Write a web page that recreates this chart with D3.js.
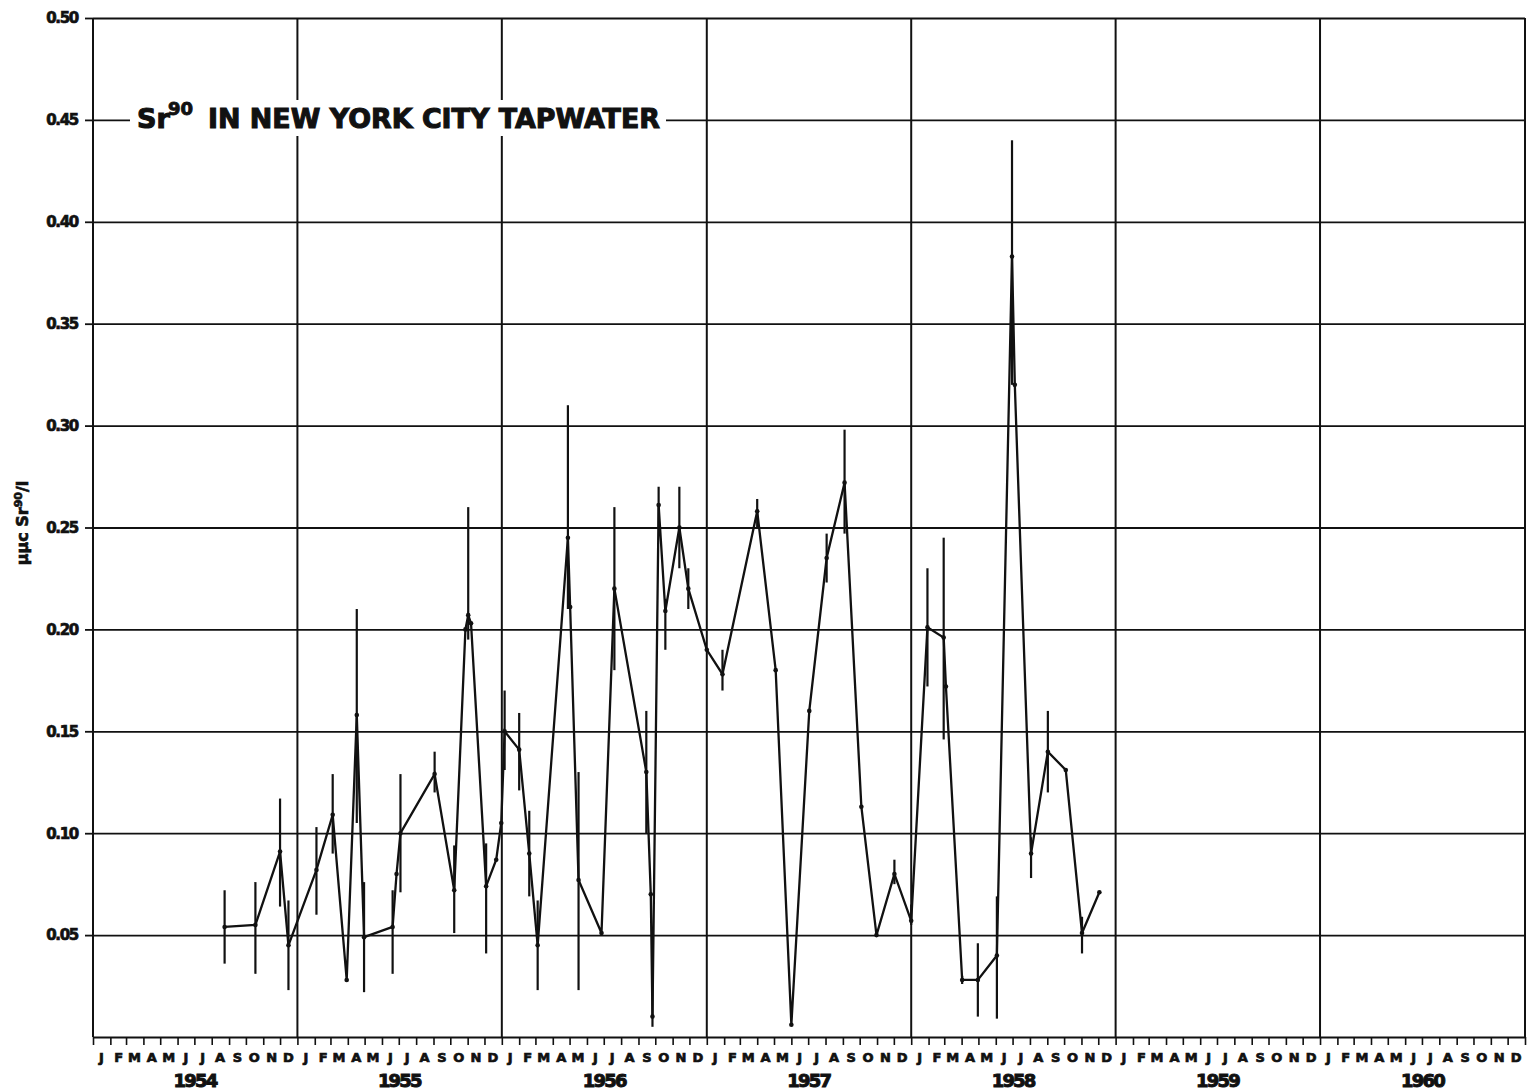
<!DOCTYPE html>
<html>
<head>
<meta charset="utf-8">
<script src="https://cdn.jsdelivr.net/npm/d3@7"></script>
<style>
  body { margin: 0; background: #fff; }
  svg text { font-family: "DejaVu Sans", "Liberation Sans", sans-serif; font-weight: bold; fill: #111; stroke: #111; stroke-width: 0.7px; }
</style>
</head>
<body>
<svg id="chart"></svg>
<script>
// Sample dates
const sampleDates = [
  "1954-08-24","1954-10-18","1954-12-01","1954-12-16",
  "1955-02-04","1955-03-05","1955-03-30","1955-04-17","1955-04-30","1955-06-20","1955-06-27","1955-07-04",
  "1955-09-03","1955-10-08","1955-10-28","1955-11-02","1955-11-07","1955-12-04","1955-12-22","1955-12-31",
  "1956-01-06","1956-02-01","1956-02-19","1956-03-05","1956-04-28","1956-05-02","1956-05-17",
  "1956-06-27","1956-07-20","1956-09-15","1956-09-23","1956-09-26","1956-10-07","1956-10-19","1956-11-13",
  "1956-11-29","1957-01-01","1957-01-29","1957-04-01","1957-05-04","1957-06-01","1957-07-03","1957-08-03",
  "1957-09-04","1957-10-04","1957-10-31","1957-12-02","1958-01-01","1958-01-30","1958-02-28","1958-03-04",
  "1958-04-02","1958-04-30","1958-06-03","1958-06-30","1958-07-05","1958-08-03","1958-09-02","1958-10-04",
  "1958-11-02","1958-12-03"
];
// Sr90 in uuc/l
const sr90Values = [
  0.054,0.055,0.091,0.045,
  0.082,0.109,0.028,0.158,0.049,0.054,0.080,0.100,
  0.129,0.072,0.200,0.207,0.203,0.074,0.087,0.105,
  0.150,0.141,0.090,0.045,0.245,0.211,0.077,
  0.051,0.220,0.130,0.070,0.010,0.261,0.209,0.250,
  0.220,0.190,0.178,0.258,0.180,0.006,0.160,0.235,
  0.272,0.113,0.050,0.080,0.057,0.201,0.196,0.172,
  0.028,0.028,0.040,0.383,0.320,0.090,0.140,0.131,
  0.051,0.071
];
// error bar ends (null = no bar)
const errLow = [
  0.036,0.031,0.064,0.023,
  0.060,0.090,null,0.105,0.022,0.031,null,0.071,
  0.120,0.051,null,0.195,null,0.041,null,null,
  0.131,0.121,0.069,0.023,0.210,null,0.023,
  null,0.180,0.100,null,0.005,0.250,0.190,0.230,
  0.210,null,0.170,0.250,null,null,null,0.223,
  0.247,null,null,0.075,0.055,0.172,0.146,null,
  0.026,0.010,0.009,0.320,null,0.078,0.120,null,
  0.041,null
];
const errHigh = [
  0.072,0.076,0.117,0.067,
  0.103,0.129,null,0.210,0.076,0.072,null,0.129,
  0.140,0.094,null,0.260,null,0.095,null,null,
  0.170,0.159,0.111,0.067,0.310,null,0.130,
  null,0.260,0.160,null,0.030,0.270,0.215,0.270,
  0.230,null,0.190,0.264,null,null,null,0.247,
  0.298,null,null,0.087,0.065,0.230,0.245,null,
  0.030,0.046,0.069,0.440,null,0.098,0.160,null,
  0.059,null
];
const yTicks = [0.05,0.10,0.15,0.20,0.25,0.30,0.35,0.40,0.45,0.50];
const yTickLabels = ["0.05","0.10","0.15","0.20","0.25","0.30","0.35","0.40","0.45","0.50"];
const years = [1954,1955,1956,1957,1958,1959,1960];
const monthLetters = ["J","F","M","A","M","J","J","A","S","O","N","D"];

const W = 1528, H = 1092;
const plotL = 93, plotR = 1525, plotT = 18, plotB = 1037;

const svg = d3.select("#chart").attr("width", W).attr("height", H);

const x = d3.scaleTime()
  .domain([new Date(1954,0,1), new Date(1961,0,1)])
  .range([plotL, plotR]);
const y = d3.scaleLinear().domain([0, 0.5]).range([plotB, plotT]);

const parse = d3.timeParse("%Y-%m-%d");
const data = sampleDates.map((d, i) => ({
  date: parse(d), v: sr90Values[i], lo: errLow[i], hi: errHigh[i]
}));

// horizontal grid + left ticks
const yAxis = svg.append("g")
  .attr("transform", `translate(${plotL},0)`)
  .call(d3.axisLeft(y).tickValues(yTicks)
    .tickFormat((d, i) => yTickLabels[i])
    .tickSizeInner(-(plotR - plotL)).tickSizeOuter(0).tickPadding(15));
yAxis.select(".domain").remove();
yAxis.selectAll(".tick line").attr("stroke", "#111").attr("stroke-width", 1.8);
yAxis.selectAll(".tick").append("line")
  .attr("x1", -8).attr("x2", 0).attr("stroke", "#111").attr("stroke-width", 1.8);
yAxis.selectAll(".tick text")
  .style("font-size", "15px").style("letter-spacing", "-1.3px")
  .style("font-family", "DejaVu Sans").attr("fill", "#111");

// vertical year lines
const yearDates = d3.range(1954, 1962).map(yr => new Date(yr, 0, 1));
svg.append("g").selectAll("line")
  .data(yearDates).join("line")
  .attr("x1", d => x(d)).attr("x2", d => x(d))
  .attr("y1", plotT).attr("y2", plotB)
  .attr("stroke", "#111").attr("stroke-width", 2);

// bottom axis with month ticks
const xAxis = svg.append("g")
  .attr("transform", `translate(0,${plotB})`)
  .call(d3.axisBottom(x).ticks(d3.timeMonth.every(1)).tickFormat("").tickSizeInner(8).tickSizeOuter(0));
xAxis.select(".domain").attr("stroke", "#111").attr("stroke-width", 2);
xAxis.selectAll(".tick line").attr("stroke", "#111").attr("stroke-width", 1.6);

// month letters at mid-month
const months = d3.timeMonth.range(new Date(1954,0,1), new Date(1961,0,1));
svg.append("g").selectAll("text")
  .data(months).join("text")
  .attr("x", d => x(new Date(d.getFullYear(), d.getMonth(), 16)))
  .attr("y", 1062)
  .attr("text-anchor", "middle")
  .style("font-size", "13px")
  .text(d => monthLetters[d.getMonth()]);

// year labels
svg.append("g").selectAll("text")
  .data(years).join("text")
  .attr("x", d => x(new Date(d, 6, 2)))
  .attr("y", 1087)
  .attr("text-anchor", "middle")
  .style("font-size", "18px").style("letter-spacing", "-1.8px")
  .style("stroke-width", "1px")
  .text(d => d);

// title, with white backing over the grid
svg.append("rect").attr("x", 130).attr("y", 100).attr("width", 536).attr("height", 36).attr("fill", "#fff");
const title = svg.append("g").style("stroke-width", "1.1px");
title.append("text").attr("x", 137).attr("y", 128).style("font-size", "27px").style("stroke-width", "1.1px").text("Sr");
title.append("text").attr("x", 168).attr("y", 115).style("font-size", "18px").style("stroke-width", "0.9px").text("90");
title.append("text").attr("x", 208).attr("y", 128).style("font-size", "27px").style("stroke-width", "1.1px")
  .attr("textLength", 452).attr("lengthAdjust", "spacingAndGlyphs")
  .text("IN NEW YORK CITY TAPWATER");

// y label
svg.append("text")
  .attr("transform", "translate(28,523) rotate(-90)")
  .attr("text-anchor", "middle")
  .style("font-size", "16px")
  .html('μμc Sr<tspan dy="-6" font-size="11px">90</tspan><tspan dy="6">/l</tspan>');

// error bars
svg.append("g").selectAll("line")
  .data(data.filter(d => d.lo != null)).join("line")
  .attr("x1", d => x(d.date)).attr("x2", d => x(d.date))
  .attr("y1", d => y(d.lo)).attr("y2", d => y(d.hi))
  .attr("stroke", "#111").attr("stroke-width", 2.2);

// the series
const line = d3.line().x(d => x(d.date)).y(d => y(d.v));
svg.append("path").datum(data)
  .attr("d", line)
  .attr("fill", "none").attr("stroke", "#111").attr("stroke-width", 2.3)
  .attr("stroke-linejoin", "miter");

svg.append("g").selectAll("circle")
  .data(data).join("circle")
  .attr("cx", d => x(d.date)).attr("cy", d => y(d.v))
  .attr("r", 2.3).attr("fill", "#111");
</script>
</body>
</html>
